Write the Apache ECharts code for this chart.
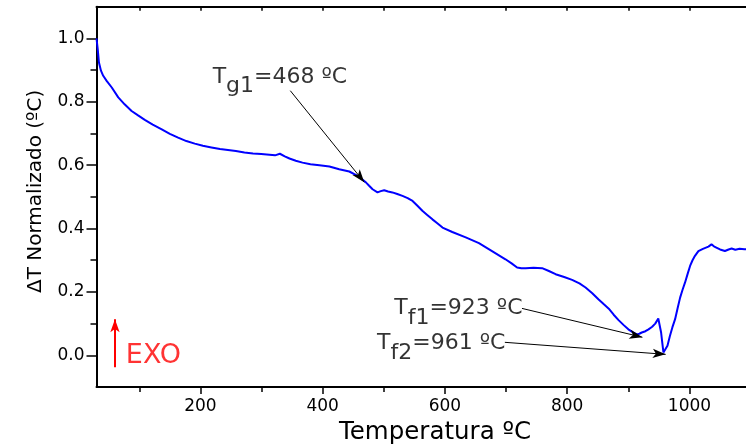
<!DOCTYPE html>
<html>
<head>
<meta charset="utf-8">
<script src="https://cdn.jsdelivr.net/npm/echarts@6/dist/echarts.min.js"></script>
<style>
html, body { margin: 0; padding: 0; background: #fff; }
#chart { width: 746px; height: 446px; }
</style>
</head>
<body>
<div id="chart"></div>
<script>
// DTA trace: temperature (ºC) and normalized ΔT (ºC)
const temps = [30, 32, 34, 37.3, 41, 46.6, 55, 65.6, 76, 87.4, 98, 109, 122, 136, 150, 163.5, 177, 190.7,
  204, 218, 232, 245, 258, 272, 286, 299.5, 313, 322, 330, 338, 345.7, 356, 367, 380, 394.6, 411, 427,
  443.5, 457, 464, 471, 476, 481.6, 489.7, 495, 500.6, 507, 514, 522, 530.5, 539, 547, 555, 563, 571,
  579.5, 588, 596, 612, 634, 655.6, 677, 699, 709, 718, 725, 732, 745, 759, 770, 781, 795, 808, 820,
  830, 841, 851, 860, 868, 876, 884, 892, 900, 907, 914, 918, 922, 928, 933, 939, 944, 949, 951, 953.6,
  955.5, 957.4, 960, 964, 968, 972, 976.5, 980.5, 984.7, 988.7, 992.8, 997, 1001, 1005, 1009, 1014.6,
  1022, 1031, 1036, 1040, 1044, 1050, 1058, 1064, 1069, 1075, 1082, 1090, 1100];
const dtNorm = [1.000, 0.966, 0.924, 0.898, 0.882, 0.866, 0.845, 0.814, 0.792, 0.771, 0.757, 0.743, 0.728,
  0.714, 0.699, 0.687, 0.676, 0.668, 0.661, 0.656, 0.651, 0.648, 0.645, 0.640, 0.637, 0.635, 0.633, 0.631,
  0.636, 0.628, 0.621, 0.614, 0.608, 0.603, 0.600, 0.596, 0.587, 0.580, 0.566, 0.556, 0.545, 0.535, 0.524,
  0.514, 0.518, 0.521, 0.517, 0.514, 0.509, 0.503, 0.496, 0.487, 0.472, 0.456, 0.443, 0.429, 0.416, 0.403,
  0.389, 0.372, 0.354, 0.329, 0.303, 0.290, 0.277, 0.275, 0.275, 0.276, 0.275, 0.266, 0.256, 0.247, 0.238,
  0.227, 0.214, 0.196, 0.177, 0.161, 0.147, 0.128, 0.111, 0.096, 0.082, 0.073, 0.066, 0.068, 0.072, 0.076,
  0.082, 0.090, 0.100, 0.116, 0.110, 0.072, 0.040, 0.009, 0.006, 0.030, 0.061, 0.088, 0.114, 0.148, 0.182,
  0.207, 0.230, 0.257, 0.282, 0.300, 0.314, 0.329, 0.336, 0.343, 0.350, 0.344, 0.340, 0.334, 0.329, 0.334,
  0.337, 0.333, 0.336, 0.335, 0.333];

const xMajorTicks = [200, 400, 600, 800, 1000];
const xMinorTicks = [100, 300, 500, 700, 900];
const yMajorTicks = [0.0, 0.2, 0.4, 0.6, 0.8, 1.0];
const yMinorTicks = [0.1, 0.3, 0.5, 0.7, 0.9];

// transition callouts: subscript, temperature, text anchor, arrow tail, arrow tip value
const annoSubs = ['g1', 'f1', 'f2'];
const annoTemps = [468, 923, 961];
const annoTextAt = [[220, 0.878], [517, 0.148], [489, 0.037]];
const annoTail = [[347, 0.835], [726, 0.148], [698, 0.041]];
const annoTipY = [0.546, 0.057, 0.003];

// exothermic direction marker
const exoText = 'EXO';
const exoTextAt = [78, -0.003];
const exoArrow = [[60.2, -0.038], [60.2, 0.114]];

const FONT = 'DejaVu Sans';
const X_MIN = 30, X_MAX = 1100, Y_MIN = -0.1, Y_MAX = 1.1;

const chart = echarts.init(document.getElementById('chart'), null, { renderer: 'canvas' });

const axisLine = { show: true, onZero: false, lineStyle: { color: '#000', width: 2 } };
const hiddenLine = { show: false, onZero: false };
const labelStyle = { fontFamily: FONT, fontSize: 17, color: '#000' };

const option = {
  animation: false,
  backgroundColor: '#fff',
  grid: { left: 96.5, right: -4.6, top: 6.7, bottom: 59, outerBoundsMode: 'none', containLabel: false },
  xAxis: [
    {
      type: 'value', position: 'bottom', min: X_MIN, max: X_MAX,
      name: 'Temperatura ºC', nameLocation: 'middle', nameGap: 19,
      nameTextStyle: { fontFamily: FONT, fontSize: 24.5, color: '#000', padding: [0, 0, 0, 23] },
      axisLine: axisLine,
      axisTick: { show: true, inside: false, length: 7, lineStyle: { color: '#000', width: 1.5 }, customValues: xMajorTicks },
      axisLabel: { show: true, margin: 11, ...labelStyle, customValues: xMajorTicks, formatter: v => String(v) },
      splitLine: { show: false }
    },
    {
      type: 'value', position: 'bottom', min: X_MIN, max: X_MAX,
      axisLine: hiddenLine,
      axisTick: { show: true, inside: false, length: 5, lineStyle: { color: '#000', width: 1.5 }, customValues: xMinorTicks },
      axisLabel: { show: false },
      splitLine: { show: false }
    },
    {
      type: 'value', position: 'top', min: X_MIN, max: X_MAX,
      axisLine: axisLine,
      axisTick: { show: true, inside: true, length: 4, lineStyle: { color: '#000', width: 1.5 }, customValues: xMinorTicks.concat(xMajorTicks) },
      axisLabel: { show: false },
      splitLine: { show: false }
    }
  ],
  yAxis: [
    {
      type: 'value', position: 'left', min: Y_MIN, max: Y_MAX,
      name: 'ΔT Normalizado (ºC)', nameLocation: 'middle', nameGap: 51,
      nameTextStyle: { fontFamily: FONT, fontSize: 20, color: '#000', padding: [0, 0, 0, 11] },
      axisLine: axisLine,
      axisTick: { show: true, inside: false, length: 10, lineStyle: { color: '#000', width: 1.5 }, customValues: yMajorTicks },
      axisLabel: { show: true, margin: 12, ...labelStyle, customValues: yMajorTicks, formatter: v => v.toFixed(1) },
      splitLine: { show: false }
    },
    {
      type: 'value', position: 'left', min: Y_MIN, max: Y_MAX,
      axisLine: hiddenLine,
      axisTick: { show: true, inside: false, length: 6, lineStyle: { color: '#000', width: 1.5 }, customValues: yMinorTicks },
      axisLabel: { show: false },
      splitLine: { show: false }
    }
  ],
  series: [
    {
      name: 'ΔT', type: 'line', xAxisIndex: 0, yAxisIndex: 0,
      data: temps.map((t, i) => [t, dtNorm[i]]),
      showSymbol: false, symbol: 'none',
      lineStyle: { color: '#0000ff', width: 2 },
      silent: true, z: 3
    },
    {
      name: 'callouts', type: 'scatter', xAxisIndex: 0, yAxisIndex: 0,
      symbolSize: 0, silent: true, z: 4,
      data: annoSubs.map((s, i) => ({ value: annoTextAt[i], sub: s, temp: annoTemps[i] })),
      label: {
        show: true, position: [0, 0], align: 'left', verticalAlign: 'middle', color: '#000',
        formatter: p => '{t|T}{s|' + p.data.sub + '}{t|=' + p.data.temp + ' ºC}',
        rich: {
          t: { fontFamily: FONT, fontSize: 22, color: '#000', verticalAlign: 'middle' },
          s: { fontFamily: FONT, fontSize: 22, color: '#000', verticalAlign: 'middle', padding: [19, 0, 0, 0] }
        }
      },
      markLine: {
        silent: true, animation: false,
        symbol: ['none', 'arrow'], symbolSize: [0, 12],
        label: { show: false },
        lineStyle: { color: '#000', width: 1, type: 'solid' },
        data: annoTail.map((tail, i) => [
          { coord: tail, symbol: 'none' },
          { coord: [annoTemps[i], annoTipY[i]], symbol: 'arrow', symbolSize: [7, 13] }
        ])
      }
    },
    {
      name: 'exo', type: 'scatter', xAxisIndex: 0, yAxisIndex: 0,
      symbolSize: 0, silent: true, z: 4,
      data: [{ value: exoTextAt }],
      label: {
        show: true, position: [0, 0], align: 'left', verticalAlign: 'middle',
        formatter: exoText,
        fontFamily: FONT, fontSize: 27, color: '#ff0000'
      },
      markLine: {
        silent: true, animation: false,
        symbol: ['none', 'arrow'],
        label: { show: false },
        lineStyle: { color: '#ff0000', width: 2, type: 'solid' },
        data: [[
          { coord: exoArrow[0], symbol: 'none' },
          { coord: exoArrow[1], symbol: 'arrow', symbolSize: [7, 13] }
        ]]
      }
    }
  ]
};

chart.setOption(option);
</script>
</body>
</html>
